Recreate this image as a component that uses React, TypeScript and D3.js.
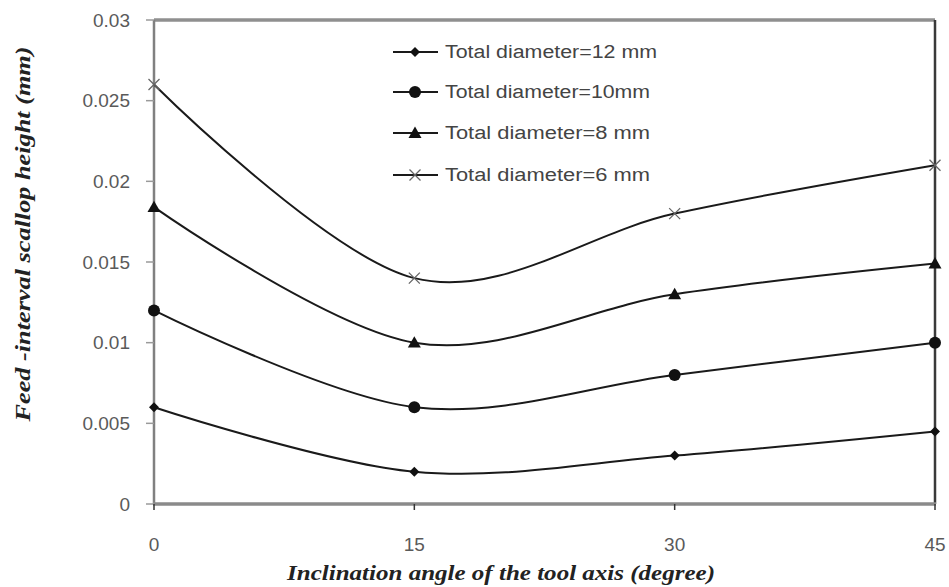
import React from "react";
import * as d3 from "d3";

const angles = [0, 15, 30, 45];
const xTicks = [0, 15, 30, 45];
const yTicks = [0, 0.005, 0.01, 0.015, 0.02, 0.025, 0.03];
const yTickLabels = ["0", "0.005", "0.01", "0.015", "0.02", "0.025", "0.03"];

const seriesNames = [
  "Total diameter=12 mm",
  "Total diameter=10mm",
  "Total diameter=8 mm",
  "Total diameter=6 mm",
];
const d12 = [0.006, 0.002, 0.003, 0.0045];
const d10 = [0.012, 0.006, 0.008, 0.01];
const d8 = [0.0184, 0.01, 0.013, 0.0149];
const d6 = [0.026, 0.014, 0.018, 0.021];
const seriesValues = [d12, d10, d8, d6];
const markerTypes = ["diamond", "circle", "triangle", "cross"];

const W = 949;
const H = 587;
const left = 154;
const right = 935;
const top = 20;
const bottom = 504;

const x = d3.scaleLinear().domain([0, 45]).range([left, right]);
const y = d3.scaleLinear().domain([0, 0.03]).range([bottom, top]);

const line = d3
  .line<number>()
  .x((_, i) => x(angles[i]))
  .y((v) => y(v))
  .curve(d3.curveCardinal.tension(0));

function Marker({ type, cx, cy }: { type: string; cx: number; cy: number }) {
  if (type === "diamond") {
    const s = 5;
    return (
      <path
        d={`M${cx},${cy - s}L${cx + s},${cy}L${cx},${cy + s}L${cx - s},${cy}Z`}
        fill="#111"
      />
    );
  }
  if (type === "circle") {
    return <circle cx={cx} cy={cy} r={6} fill="#111" />;
  }
  if (type === "triangle") {
    const s = 6.5;
    return (
      <path
        d={`M${cx},${cy - s}L${cx + s},${cy + s * 0.75}L${cx - s},${cy + s * 0.75}Z`}
        fill="#111"
      />
    );
  }
  const s = 5.5;
  return (
    <path
      d={`M${cx - s},${cy - s}L${cx + s},${cy + s}M${cx + s},${cy - s}L${cx - s},${cy + s}`}
      stroke="#666"
      strokeWidth={1.3}
      fill="none"
    />
  );
}

const legendRows = [52, 92, 133, 175];

export default function App() {
  const tickFont = "'Liberation Sans', Arial, sans-serif";
  const titleFont = "'Liberation Serif', 'DejaVu Serif', serif";
  return (
    <div style={{ position: "absolute", left: 0, top: 0 }}>
      <svg width={W} height={H} style={{ display: "block", background: "#fff" }}>
        <rect x={0} y={0} width={W} height={H} fill="#fff" />
        {/* frame */}
        <line x1={left} y1={top} x2={right} y2={top} stroke="#8f8f8f" strokeWidth={3.5} />
        <line x1={right} y1={top} x2={right} y2={bottom} stroke="#3a3a3a" strokeWidth={2.5} />
        <line x1={left} y1={top} x2={left} y2={bottom} stroke="#808080" strokeWidth={2.5} />
        <line x1={left - 1} y1={bottom} x2={right + 1} y2={bottom} stroke="#8a8a8a" strokeWidth={3.5} />

        {/* y ticks */}
        {yTicks.map((t, i) => (
          <g key={"y" + i}>
            <line x1={left - 8} x2={left} y1={y(t)} y2={y(t)} stroke="#9a9a9a" strokeWidth={1.5} />
            <text
              x={130}
              y={y(t)}
              dy="0.35em"
              textAnchor="end"
              fontFamily={tickFont}
              fontSize={19}
              fill="#5a5a5a"
            >
              {yTickLabels[i]}
            </text>
          </g>
        ))}

        {/* x ticks */}
        {xTicks.map((t, i) => (
          <g key={"x" + i}>
            <line x1={x(t)} x2={x(t)} y1={bottom} y2={bottom + 6} stroke="#333" strokeWidth={1.5} />
            <text
              x={x(t)}
              y={551}
              textAnchor="middle"
              fontFamily={tickFont}
              fontSize={19}
              fill="#5a5a5a"
            >
              {String(t)}
            </text>
          </g>
        ))}

        {/* series */}
        {seriesValues.map((vals, si) => (
          <g key={"s" + si}>
            <path d={line(vals) || ""} fill="none" stroke="#1a1a1a" strokeWidth={2} />
            {vals.map((v, i) => (
              <Marker key={i} type={markerTypes[si]} cx={x(angles[i])} cy={y(v)} />
            ))}
          </g>
        ))}

        {/* legend */}
        {seriesNames.map((name, i) => (
          <g key={"l" + i}>
            <line x1={393} x2={438} y1={legendRows[i]} y2={legendRows[i]} stroke="#1a1a1a" strokeWidth={2} />
            <Marker type={markerTypes[i]} cx={415} cy={legendRows[i]} />
            <text
              x={445}
              y={legendRows[i]}
              dy="0.35em"
              fontFamily={tickFont}
              fontSize={18}
              fill="#444"
              textLength={name.length > 19 ? 212 : 205}
              lengthAdjust="spacingAndGlyphs"
            >
              {name}
            </text>
          </g>
        ))}

        {/* axis titles */}
        <text
          x={501}
          y={580}
          textAnchor="middle"
          fontFamily={titleFont}
          fontStyle="italic"
          fontWeight="bold"
          fontSize={21}
          fill="#222"
          textLength={428}
          lengthAdjust="spacingAndGlyphs"
        >
          Inclination angle of the tool axis (degree)
        </text>
        <text
          transform="translate(23,234) rotate(-90)"
          textAnchor="middle"
          dy="0.35em"
          fontFamily={titleFont}
          fontStyle="italic"
          fontWeight="bold"
          fontSize={20}
          fill="#222"
          textLength={375}
          lengthAdjust="spacingAndGlyphs"
        >
          Feed -interval scallop height (mm)
        </text>
      </svg>
    </div>
  );
}
